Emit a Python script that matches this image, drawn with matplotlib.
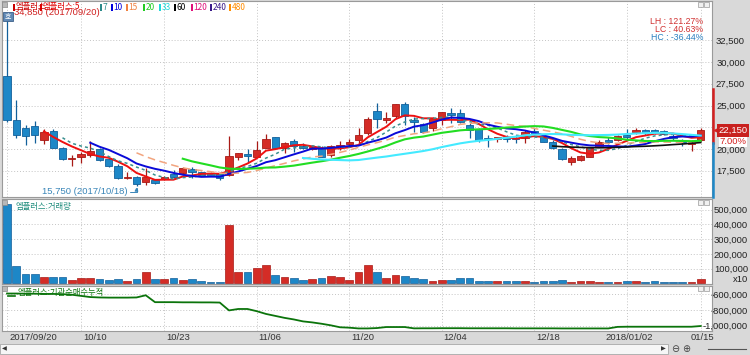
import matplotlib
matplotlib.use('Agg')
import matplotlib.pyplot as plt
import matplotlib.transforms as mtransforms
from matplotlib.patches import Rectangle
from matplotlib.lines import Line2D
import numpy as np
import pandas as pd

# ---- data (엠플러스 일봉, 2017/09/20 ~ 2018/01/15) ----
open_ = [28450, 23300, 22400, 22700, 21050, 22100, 20150, 18800, 19100, 19300,
         19950, 18800, 18100, 16650, 16800, 16250, 16450, 16500, 17100, 17200,
         17650, 17300, 17200, 17100, 17000, 19100, 19400, 19100, 20150, 21350,
         20100, 20900, 20350, 19950, 20100, 19300, 20350, 20600, 21050, 21800,
         24400, 23350, 23800, 25150, 23350, 22850, 22400, 23350, 24100, 24100,
         22750, 22250, 21300, 21150, 21350, 21300, 21250, 22100, 21350, 20850,
         19950, 18450, 18750, 19100, 20250, 21050, 21050, 21600, 22000, 22200,
         22200, 22050, 21500, 21050, 20600, 21050]
high = [34850, 25650, 22750, 23200, 22300, 22300, 20250, 19300, 19600, 20900,
        20100, 18950, 18300, 17350, 16950, 17800, 16600, 16950, 17600, 17900,
        17900, 17400, 17350, 17200, 21500, 19550, 19950, 20900, 21700, 21400,
        20850, 21100, 20650, 20400, 20350, 20450, 20950, 21100, 22400, 23700,
        25250, 24200, 25200, 25350, 23700, 23000, 23700, 24300, 24700, 24600,
        22950, 22400, 21600, 21400, 21600, 21600, 22200, 22400, 21600, 21050,
        20100, 19150, 19300, 20150, 21050, 21350, 21600, 22250, 22450, 22300,
        22350, 22200, 21700, 21200, 21050, 22400]
low = [23100, 21250, 20450, 20700, 20550, 20100, 18700, 18050, 18350, 19100,
       18650, 17950, 16500, 16550, 15750, 15850, 16000, 16400, 16650, 17000,
       16650, 16900, 16850, 16450, 16950, 18750, 18550, 19050, 20100, 19950,
       19500, 19700, 19950, 19850, 19050, 19100, 19900, 20400, 20650, 21600,
       22400, 22950, 23550, 22750, 22000, 21850, 22100, 22750, 22950, 22950,
       21250, 20850, 20200, 20850, 20850, 20650, 20650, 21500, 20750, 20000,
       18750, 18200, 18650, 19050, 20200, 20550, 20950, 21050, 21700, 21650,
       21700, 21600, 21000, 20400, 19800, 20900]
close = [23350, 21650, 21500, 21600, 22000, 20150, 18800, 18950, 19400, 19800,
         18750, 18050, 16700, 16800, 15950, 16750, 16050, 16800, 16800, 17800,
         17300, 17000, 16950, 16700, 19250, 19500, 19250, 19900, 21150, 20100,
         20650, 20350, 20150, 20250, 19100, 20350, 20500, 20800, 21600, 23450,
         23400, 23550, 25150, 23800, 23150, 22000, 23550, 24200, 23900, 23050,
         22200, 21050, 21150, 21350, 21200, 21150, 22000, 21700, 20850, 20100,
         18800, 19000, 19250, 20100, 20850, 20850, 21500, 21400, 22200, 21800,
         21900, 21700, 21300, 20850, 20700, 22150]
volume = [538000, 120000, 62000, 62000, 45000, 45000, 42000, 25000, 35000, 40000,
          28000, 25000, 28000, 20000, 30000, 80000, 33000, 32000, 38000, 22000,
          30000, 16000, 12000, 12000, 393000, 80000, 75000, 105000, 122000, 60000,
          45000, 40000, 27000, 30000, 40000, 50000, 43000, 27000, 80000, 122000,
          78000, 40000, 58000, 50000, 40000, 32000, 20000, 25000, 25000, 40000,
          35000, 20000, 17000, 17000, 15000, 15000, 20000, 13000, 17000, 15000,
          25000, 13000, 17000, 17000, 9000, 7000, 13000, 17000, 17000, 13000,
          17000, 13000, 13000, 13000, 8000, 30000]
inst_cum = [-590000, -590000, -592000, -592000, -595000, -595000, -598000, -605000, -620000, -635000,
            -640000, -642000, -642000, -642000, -640000, -612000, -700000, -700000, -700000, -702000,
            -702000, -703000, -703000, -705000, -805000, -787000, -787000, -815000, -850000, -875000,
            -900000, -920000, -945000, -958000, -975000, -995000, -1020000, -1025000, -1035000, -1035000,
            -1030000, -1017000, -1017000, -1017000, -1034000, -1033000, -1033000, -1032000, -1032000, -1032000,
            -1033000, -1033000, -1033000, -1033000, -1033000, -1034000, -1034000, -1034000, -1034000, -1034000,
            -1035000, -1035000, -1035000, -1035000, -1035000, -1035000, -1015000, -1013000, -1013000, -1013000,
            -1013000, -1013000, -1013000, -1013000, -1013000, -1004000]
ma_periods = [5, 7, 10, 15, 20, 33, 60]
tick_idx = [0, 8, 17, 27, 37, 47, 57, 67, 75]
tick_labels = ['2017/09/20', '10/10', '10/23', '11/06', '11/20', '12/04', '12/18', '2018/01/02', '01/15']
first_date, low_date = '2017/09/20', '2017/10/18'

W, H = 750, 355
KR = ['Noto Sans CJK KR', 'DejaVu Sans']
plt.rcParams['font.family'] = ['Liberation Sans Narrow', 'Liberation Sans', 'DejaVu Sans']

RED, RED_E = '#d42c26', '#a81a16'
BLUE, BLUE_E = '#1d87c7', '#12609b'
GRID = '#c4c4c4'
STEP, X0 = 9.25, 7.0      # pixel spacing of one day, pixel x of the first day

o = np.array(open_); h = np.array(high); l = np.array(low); c = np.array(close)
n = len(c)
x = np.arange(n)
up = c >= o
fill = np.where(up, RED, BLUE)
edge = np.where(up, RED_E, BLUE_E)

fig = plt.figure(figsize=(7.5, 3.55), dpi=100, facecolor='#d9d9d9')


def fx(px):
    return px / W


def fy(py):
    return 1 - py / H


def panel(top, bottom):
    ax = fig.add_axes([2 / W, 1 - bottom / H, 710 / W, (bottom - top) / H])
    ax.set_facecolor('white')
    ax.set_xlim(-(X0 - 2) / STEP, (712 - X0) / STEP)
    ax.set_xticks(tick_idx)
    ax.set_xticklabels([])
    ax.tick_params(axis='x', length=0)
    ax.grid(True, color=GRID, ls=(0, (1, 2)), lw=0.7)
    ax.set_axisbelow(True)
    ax.yaxis.tick_right()
    for s in ax.spines.values():
        s.set_color('#9a9a9a')
        s.set_linewidth(0.8)
    return ax


def right_labels(ax, ticks, labels, end_px):
    ax.set_yticks(ticks)
    ax.set_yticklabels(labels, fontsize=6.8, color='#222222')
    ax.tick_params(axis='y', length=0, pad=(end_px - 712) * 0.72)
    for t in ax.get_yticklabels():
        t.set_horizontalalignment('right')


def small_buttons(top_px):
    fig.patches.append(Rectangle((fx(2), fy(top_px + 5)), 5 / W, 5 / H, transform=fig.transFigure,
                                 fc='#b8b8b8', ec='#8a8a8a', lw=0.5, zorder=10))
    for bx in (698, 704):
        fig.patches.append(Rectangle((fx(bx), fy(top_px + 5)), 5 / W, 5 / H, transform=fig.transFigure,
                                     fc='#f0f0f0', ec='#9a9a9a', lw=0.5, zorder=10))


# ---- main price panel ----
ax1 = panel(1, 197)
ax1.set_ylim(20000 - 48 * 115, 20000 + 148 * 115)
pticks = [17500, 20000, 22500, 25000, 27500, 30000, 32500]
last, prev = c[-1], c[-2]
# the label nearest the current price is covered by the price tag
right_labels(ax1, pticks, ['' if abs(t - last) < 1000 else f'{t:,}' for t in pticks], 745)

ax1.vlines(x, l, h, colors=edge, lw=0.9, zorder=2)
ax1.bar(x, np.maximum(np.abs(c - o), 90), bottom=np.minimum(o, c), width=0.8,
        color=fill, edgecolor=edge, lw=0.6, zorder=3)

ma_style = {5: ('#ee1111', '-', 1.4), 7: ('#3a8f8f', (0, (2, 2)), 1.1),
            10: ('#0a0ad8', '-', 1.4), 15: ('#f2a47e', (0, (5, 3)), 1.1),
            20: ('#22dd22', '-', 1.5), 33: ('#44eaff', '-', 1.5), 60: ('#111111', '-', 1.2)}
cs = pd.Series(c, dtype=float)
for p in ma_periods:
    col, ls, lw = ma_style[p]
    ax1.plot(x, cs.rolling(p).mean(), color=col, ls=ls, lw=lw, zorder=4)

# high / low markers
ih, il = int(np.argmax(h)), int(np.argmin(l))
ax1.annotate(f'{h[ih]:,} ({first_date})', xy=(ih, h[ih]), xytext=(7, 7), textcoords='offset pixels',
             ha='left', va='center', fontsize=6.8, color='#d02020', annotation_clip=False, zorder=6)
ax1.annotate(f'{l[il]:,} ({low_date})', xy=(il, l[il]), xytext=(-9, -6), textcoords='offset pixels',
             ha='right', va='center', fontsize=6.8, color='#3a86b8', zorder=6,
             arrowprops=dict(arrowstyle='-|>', color='#3a86b8', lw=0.7, mutation_scale=5,
                             shrinkA=0, shrinkB=1,
                             connectionstyle='angle,angleA=0,angleB=90,rad=0'))

# LH / LC / HC
lh = (h.max() - l.min()) / l.min() * 100
lc = (last - l.min()) / l.min() * 100
hc = (last - h.max()) / h.max() * 100
fig.text(fx(703), fy(22), f'LH : {lh:.2f}%', ha='right', va='center', fontsize=6.3, color='#d03030')
fig.text(fx(703), fy(30), f'LC : {lc:.2f}%', ha='right', va='center', fontsize=6.3, color='#d03030')
fig.text(fx(703), fy(38), f'HC : {hc:.2f}%', ha='right', va='center', fontsize=6.3, color='#2a80c0')

# price limit bar and current price tag on the axis
blend = mtransforms.blended_transform_factory(fig.transFigure, ax1.transData)
fig.add_artist(Line2D([fx(712.8)] * 2, [prev, prev * 1.3], color='#d42020', lw=1.8, transform=blend))
fig.add_artist(Line2D([fx(712.8)] * 2, [prev * 0.7, prev], color='#1e88c8', lw=1.8, transform=blend))
fig.add_artist(Line2D([fx(717)], [last], marker='<', ms=4, color='#d42020', lw=0, transform=blend))
fig.text(fx(733), last, f'{last:,}', transform=blend, ha='center', va='center', fontsize=6.8,
         color='white', zorder=12,
         bbox=dict(boxstyle='square,pad=0.18', fc='#c8201e', ec='none'))
ax1.annotate(f'{(last / prev - 1) * 100:.2f}%', xy=(fx(733), last), xycoords=blend, xytext=(0, -11),
             textcoords='offset pixels', ha='center', va='center', fontsize=6.8, color='#d42020',
             annotation_clip=False, zorder=12,
             bbox=dict(boxstyle='square,pad=0.1', fc='white', ec='none'))

# legend line
legend_items = [(13, '엠플러스', '#cc0000'), (40, '엠플러스:5', '#e00000'), (100, '7', '#2a8a8a'),
                (111, '10', '#0000dd'), (126, '15', '#f08040'), (143, '20', '#22cc22'),
                (159, '33', '#20d8d8'), (174, '60', '#000000'), (191, '120', '#e0107a'),
                (210, '240', '#3a1a8a'), (229, '480', '#ff8c00')]
for lx, txt, col in legend_items:
    fig.patches.append(Rectangle((fx(lx), fy(10.5)), 2 / W, 7 / H, transform=fig.transFigure,
                                 fc=col, ec='none', zorder=10))
    fig.text(fx(lx + 2.5), fy(7), txt, ha='left', va='center', fontsize=6, color=col, family=KR, zorder=10)

# '호' button
fig.patches.append(Rectangle((fx(3), fy(21)), 10 / W, 9 / H, transform=fig.transFigure,
                             fc='#5f88b4', ec='#3c5f88', lw=0.6, zorder=11))
fig.text(fx(8), fy(16.5), '호', ha='center', va='center', fontsize=5, color='white', family=KR, zorder=12)
small_buttons(2)

# ---- volume panel ----
ax2 = panel(199, 284)
ax2.set_ylim(-3400, 571000)
ax2.bar(x, volume, width=0.84, color=fill, edgecolor=edge, lw=0.5, zorder=3)
vticks = [100000, 200000, 300000, 400000, 500000]
right_labels(ax2, vticks, [f'{t:,}' for t in vticks], 748)
fig.text(fx(748), fy(279), 'x10', ha='right', va='center', fontsize=6.8, color='#222222')
fig.text(fx(16), fy(206), '엠플러스:거래량', ha='left', va='center', fontsize=6, color='#1a8a7a', family=KR)
small_buttons(200)

# ---- institution cumulative net buying panel ----
ax3 = panel(286, 331)
ax3.set_ylim(-1067500, -494000)
ax3.plot(x, inst_cum, color='#0b740b', lw=1.3, zorder=3)
cticks = [-1000000, -800000, -600000]
right_labels(ax3, cticks, [f'{t:,}' for t in cticks], 748)
fig.add_artist(Line2D([fx(8), fx(15)], [fy(295.5)] * 2, color='#0b740b', lw=1.2))
fig.text(fx(17), fy(292), '엠플러스:기관순매수누적', ha='left', va='center', fontsize=6, color='#0b740b', family=KR)
small_buttons(286)

# ---- date labels ----
for i, (ti, lab) in enumerate(zip(tick_idx, tick_labels)):
    gx = X0 + STEP * ti
    if len(lab) > 5 and i > 0 or i == len(tick_idx) - 1:
        fig.text(fx(gx + 2), fy(337), lab, ha='center', va='center', fontsize=6.8, color='#333333')
    else:
        fig.text(fx(gx + 2), fy(337), lab, ha='left', va='center', fontsize=6.8, color='#333333')

# ---- scroll bar ----
fig.patches.append(Rectangle((fx(0), fy(354)), 668 / W, 10 / H, transform=fig.transFigure,
                             fc='#f6f6f6', ec='#a8a8a8', lw=0.6))
fig.text(fx(4), fy(349), '◀', ha='center', va='center', fontsize=4.5, color='#333333', family='DejaVu Sans')
fig.text(fx(663), fy(349), '▶', ha='center', va='center', fontsize=4.5, color='#333333', family='DejaVu Sans')
fig.text(fx(675), fy(349), '⊖', ha='center', va='center', fontsize=7, color='#444444', family='DejaVu Sans')
fig.text(fx(686), fy(349), '⊕', ha='center', va='center', fontsize=7, color='#444444', family='DejaVu Sans')
fig.add_artist(Line2D([fx(708), fx(746)], [fy(349)] * 2, color='#555555', lw=0.8))

fig.savefig('out.png', dpi=100, facecolor=fig.get_facecolor())
